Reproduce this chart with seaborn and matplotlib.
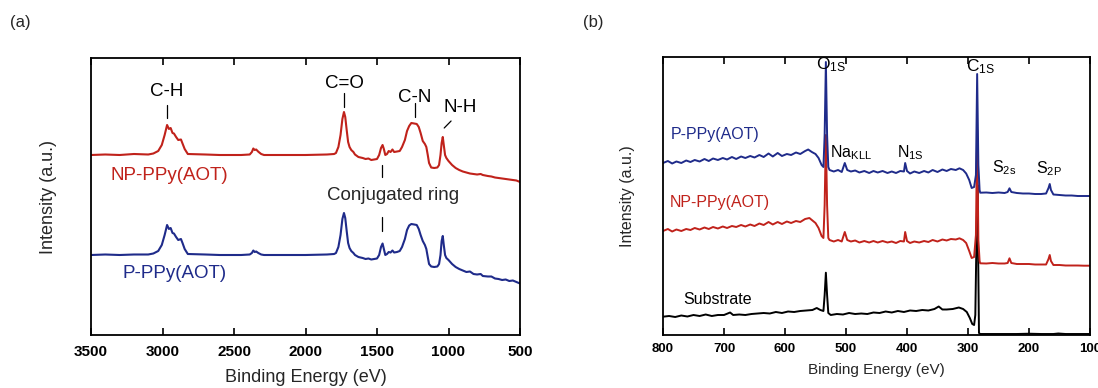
import matplotlib
matplotlib.use("Agg")
import matplotlib.pyplot as plt
import seaborn as sns
import pandas as pd

# ============================================================
# DATA (binding energy in eV, intensity in arbitrary units)
# ============================================================

# panel (a) - spectra
a_np_ppy = [
    (3500, 180), (3400, 180.5), (3300, 180), (3200, 181), (3100, 180.5), (3064, 181.5),
    (3030, 184), (3005, 190), (2985, 200), (2968, 210), (2955, 206), (2943, 207),
    (2930, 202), (2920, 201.5), (2905, 198), (2890, 195), (2871, 195.5), (2860, 191.5),
    (2845, 186), (2823, 181), (2700, 180.5), (2600, 180), (2450, 180), (2390, 180.5),
    (2375, 183), (2365, 186.5), (2355, 185), (2345, 185.5), (2330, 183.3), (2310, 181),
    (2290, 180), (2200, 180), (2000, 180), (1850, 180.5), (1800, 181), (1787, 182),
    (1770, 188), (1755, 200), (1742, 216), (1731, 223), (1722, 218), (1712, 205),
    (1702, 193), (1692, 188), (1680, 185), (1665, 183), (1654, 180.5), (1630, 178),
    (1600, 177), (1580, 176), (1560, 176.5), (1540, 175), (1520, 175.5), (1500, 176),
    (1485, 180), (1472, 187), (1461, 190), (1452, 186), (1442, 180), (1430, 181),
    (1418, 184), (1405, 183), (1392, 185.5), (1380, 183), (1360, 183.5), (1341, 184),
    (1325, 188), (1305, 195), (1290, 204), (1275, 209), (1260, 212), (1240, 211.5),
    (1222, 211), (1208, 208), (1195, 202), (1180, 194), (1165, 191), (1155, 188),
    (1145, 180), (1136, 172), (1121, 167.5), (1100, 167), (1078, 167.5), (1066, 170),
    (1056, 180), (1048, 192), (1040, 198), (1033, 190), (1024, 180), (1015, 177),
    (1000, 174), (975, 170), (950, 167), (925, 165), (900, 163.5), (875, 162.5),
    (850, 161.5), (825, 161), (800, 160.5), (775, 161), (760, 160), (725, 159),
    (700, 158.5), (675, 157.5), (650, 157), (625, 156.5), (600, 156), (575, 155.5),
    (550, 155), (525, 154.5), (500, 153),
]

a_p_ppy = [
    (3500, 80), (3400, 80.5), (3300, 80), (3200, 80.5), (3100, 80.5), (3064, 81.5),
    (3030, 84), (3005, 90), (2985, 100), (2968, 110), (2955, 106), (2943, 107),
    (2930, 102), (2920, 101.5), (2905, 98), (2890, 95), (2871, 96), (2860, 92),
    (2845, 86), (2823, 81), (2700, 80.5), (2600, 80), (2450, 80), (2390, 80.5),
    (2375, 82), (2365, 84.5), (2355, 83), (2345, 83.5), (2330, 82), (2310, 80.5),
    (2290, 80), (2200, 80), (2000, 80), (1850, 80.5), (1800, 81), (1787, 82),
    (1770, 88), (1755, 100), (1742, 116), (1731, 122), (1722, 117), (1712, 104),
    (1702, 92), (1692, 87), (1680, 84), (1665, 82), (1654, 80), (1630, 78),
    (1600, 77), (1580, 76), (1560, 76.5), (1540, 75.5), (1520, 76), (1500, 76.5),
    (1485, 80), (1472, 88), (1461, 91.5), (1452, 86), (1442, 80), (1430, 81),
    (1418, 83), (1405, 82.5), (1392, 84.5), (1380, 82.5), (1360, 83), (1341, 84),
    (1325, 88), (1305, 96), (1290, 105), (1275, 109.5), (1260, 111), (1240, 110.5),
    (1222, 110), (1208, 106), (1195, 100), (1180, 94), (1165, 90), (1155, 86),
    (1145, 78), (1136, 71), (1121, 68.5), (1100, 68), (1078, 68.5), (1066, 71),
    (1056, 80), (1048, 94), (1040, 99), (1033, 90), (1024, 80), (1015, 77),
    (1000, 75), (975, 71), (950, 68), (925, 66), (900, 64.5), (875, 63),
    (850, 63.5), (825, 61), (800, 60.5), (775, 61), (760, 59), (725, 58.5),
    (700, 58.5), (675, 56.5), (650, 56), (625, 55), (600, 55.5), (575, 54),
    (550, 54.5), (525, 53), (500, 51.5),
]

# panel (b) - survey spectra
b_p_ppy = [
    (800, 172), (792, 174), (785, 171.5), (778, 173.5), (770, 172), (762, 174.5),
    (755, 173), (748, 175), (740, 173.5), (732, 176), (725, 174), (718, 176.5),
    (710, 175), (702, 177), (695, 175.5), (687, 178), (680, 176), (672, 178.5),
    (665, 177), (657, 179), (650, 177.5), (642, 180), (635, 178), (627, 181.5),
    (620, 178.5), (612, 182), (605, 179), (597, 181), (590, 180), (582, 182.5),
    (575, 181), (567, 184), (562, 185.5), (556, 183), (550, 181), (545, 177),
    (540, 170), (537, 168), (535, 200), (533, 273), (531, 200), (529, 168),
    (527, 165), (520, 163.5), (513, 165), (507, 163), (502, 172), (498, 165),
    (492, 163.5), (485, 164.5), (478, 162.5), (470, 164), (462, 162), (455, 164),
    (448, 162.5), (440, 164), (432, 162), (425, 163.5), (418, 162), (411, 164),
    (405, 163.5), (403, 172), (400, 164), (395, 161.5), (388, 163.5), (380, 162),
    (372, 164), (365, 162.5), (358, 165), (350, 163), (342, 165.5), (335, 164),
    (328, 166), (320, 165), (314, 166.7), (308, 165), (303, 161.5), (298, 155),
    (294, 147), (290, 148), (287, 160), (285, 261), (283, 170), (281, 145),
    (280, 142.3), (270, 142.5), (260, 142), (250, 142.5), (240, 142), (235, 143),
    (232, 146.7), (229, 143), (220, 142), (210, 141.5), (200, 141.5), (190, 141),
    (180, 141), (172, 141.5), (168, 147), (166, 151), (164, 145), (160, 140.5),
    (150, 140), (140, 139.5), (130, 139.5), (120, 139), (110, 139), (100, 139),
]

b_np_ppy = [
    (800, 104), (792, 106), (785, 103.5), (778, 105.5), (770, 104), (762, 106),
    (755, 105), (748, 107), (740, 105.5), (732, 107.5), (725, 106), (718, 108),
    (710, 106.5), (702, 108.5), (695, 107), (687, 109), (680, 108), (672, 110),
    (665, 108.5), (657, 110.5), (650, 109), (642, 111.5), (635, 110), (627, 113),
    (620, 110.5), (612, 113), (605, 111), (597, 113.5), (590, 112), (582, 114),
    (575, 113), (567, 116), (560, 117), (556, 115), (550, 112), (545, 107),
    (540, 99), (537, 97), (535, 130), (533, 200), (531, 130), (529, 97),
    (527, 95), (520, 93.5), (513, 95), (507, 93.5), (502, 103), (498, 95),
    (492, 93.5), (485, 94.5), (478, 92.5), (470, 94), (462, 92.5), (455, 94),
    (448, 92.5), (440, 94), (432, 92.5), (425, 93.5), (418, 92), (411, 94),
    (405, 93.5), (403, 103), (400, 94), (395, 92), (388, 93.5), (380, 92.5),
    (372, 94), (365, 93), (358, 95), (350, 93.5), (342, 95.5), (335, 94.5),
    (328, 96), (320, 95.5), (314, 96.7), (308, 95), (303, 92), (298, 84),
    (294, 77), (290, 78), (287, 100), (285, 205), (283, 95), (281, 74),
    (280, 71.7), (270, 71.5), (260, 72), (250, 71.5), (240, 71.5), (235, 72),
    (232, 76.7), (229, 72), (220, 71), (210, 71), (200, 71), (190, 70.5),
    (180, 70.5), (172, 70.5), (168, 76), (166, 80), (164, 74), (160, 70),
    (150, 70), (140, 69.5), (130, 69.5), (120, 69.5), (110, 69.3), (100, 69.3),
]

b_substrate = [
    (800, 18.3), (790, 19), (780, 18), (770, 19.5), (760, 18.5), (750, 20),
    (740, 19), (730, 20.5), (720, 19), (710, 20), (700, 20), (690, 22.5),
    (685, 20), (675, 20.5), (665, 20), (655, 21), (645, 21.5), (635, 22),
    (625, 21.5), (615, 23), (605, 22), (595, 23.5), (585, 23), (575, 24),
    (565, 24.5), (555, 25), (548, 27), (542, 25), (537, 24), (535, 40),
    (533, 62.3), (531, 40), (529, 22), (525, 20), (515, 21), (505, 20.5),
    (495, 22), (485, 21), (475, 21.5), (465, 21), (455, 22.5), (445, 22),
    (435, 23.5), (425, 22.5), (415, 24), (405, 23), (395, 24.5), (385, 24),
    (375, 25), (365, 24.5), (355, 26), (348, 28.5), (342, 25.5), (335, 25.5),
    (325, 26), (315, 27.5), (308, 26), (302, 23), (297, 17), (293, 11),
    (290, 10), (288, 20), (286, 100), (284.5, 150), (283, 60), (282, 2),
    (280, 1), (260, 1), (240, 1), (220, 1), (200, 1.3), (180, 1),
    (160, 1), (152, 1.5), (140, 1), (120, 1), (100, 1),
]

a_ticks = [3500, 3000, 2500, 2000, 1500, 1000, 500]
b_ticks = [800, 700, 600, 500, 400, 300, 200, 100]

RED = "#c0221b"
BLUE = "#1f2b8a"

# ============================================================
# STYLE
# ============================================================

sns.set_theme(style="ticks")
plt.rcParams['font.family'] = ['Liberation Sans', 'DejaVu Sans']
plt.rcParams['mathtext.default'] = 'regular'


def to_df(pairs):
    return pd.DataFrame(pairs, columns=["energy", "intensity"])


def style_axis(ax, ticks, tick_size, pad):
    ax.set_xticks(ticks)
    ax.set_xticklabels([str(t) for t in ticks], fontsize=tick_size, fontweight='bold')
    ax.set_yticks([])
    ax.tick_params(axis='x', direction='in', top=True, bottom=True,
                   length=5, width=1.2, pad=pad, colors='black')
    for s in ax.spines.values():
        s.set_visible(True)
        s.set_color('black')
        s.set_linewidth(1.3)


fig = plt.figure(figsize=(10.98, 3.88), dpi=100)

ax_a = fig.add_axes([91 / 1098, 53 / 388, 429 / 1098, 277 / 388])
ax_b = fig.add_axes([663 / 1098, 53 / 388, 427 / 1098, 278 / 388])

# ============================================================
# PANEL (a)
# ============================================================

for data, color in [(a_np_ppy, RED), (a_p_ppy, BLUE)]:
    df = to_df(data)
    sns.lineplot(data=df, x="energy", y="intensity", ax=ax_a,
                 color=color, lw=1.5, estimator=None)

ax_a.set_xlim(3500, 500)
ax_a.set_ylim(0, 277)
style_axis(ax_a, a_ticks, 11, 7)

ax_a.set_xlabel("Binding Energy (eV)", fontsize=13)
ax_a.xaxis.set_label_coords(0.5, -0.155)
ax_a.xaxis.label.set_va('center')
ax_a.set_ylabel("Intensity (a.u.)", fontsize=13)
ax_a.yaxis.set_label_coords(-0.1, 0.5)
ax_a.yaxis.label.set_va('center')

# peak labels with little marker lines
a_labels = [
    ("C-H", 2968, 243, [(2966, 2966), (230, 217)]),
    ("C=O", 1728, 252, [(1731, 1731), (242, 228)]),
    ("C-N", 1234, 238, [(1234, 1234), (232, 218)]),
    ("N-H", 921, 228, [(1030, 982), (207, 214)]),
]
for txt, x, y, (lx, ly) in a_labels:
    ax_a.text(x, y, txt, fontsize=13.5, ha='center', va='center', color='black')
    ax_a.plot(lx, ly, color='black', lw=0.9)

ax_a.text(1391, 140, "Conjugated ring", fontsize=13.5, ha='center', va='center')
ax_a.plot([1463, 1463], [170, 158], color='black', lw=0.9)
ax_a.plot([1463, 1463], [118, 104], color='black', lw=0.9)

ax_a.text(3365, 160, "NP-PPy(AOT)", fontsize=13.5, ha='left', va='center', color=RED)
ax_a.text(3281, 62, "P-PPy(AOT)", fontsize=13.5, ha='left', va='center', color=BLUE)

# ============================================================
# PANEL (b)
# ============================================================

for data, color in [(b_substrate, 'black'), (b_np_ppy, RED), (b_p_ppy, BLUE)]:
    df = to_df(data)
    sns.lineplot(data=df, x="energy", y="intensity", ax=ax_b,
                 color=color, lw=1.4, estimator=None)

ax_b.set_xlim(800, 100)
ax_b.set_ylim(0, 278)
style_axis(ax_b, b_ticks, 9.5, 6)

ax_b.set_xlabel("Binding Energy (eV)", fontsize=11)
ax_b.xaxis.set_label_coords(0.5, -0.126)
ax_b.xaxis.label.set_va('center')
ax_b.set_ylabel("Intensity (a.u.)", fontsize=11.5)
ax_b.yaxis.set_label_coords(-0.083, 0.5)
ax_b.yaxis.label.set_va('center')

b_labels = [
    ("O$_{1S}$", 549, 270, 12.5),
    ("C$_{1S}$", 303, 268, 12.5),
    ("Na$_{KLL}$", 526, 182, 11.5),
    ("N$_{1S}$", 417, 182, 11.5),
    ("S$_{2s}$", 261, 167, 11.5),
    ("S$_{2P}$", 189, 166, 11.5),
]
for txt, x, y, size in b_labels:
    ax_b.text(x, y, txt, fontsize=size, ha='left', va='center', color='black')

ax_b.text(788, 200, "P-PPy(AOT)", fontsize=11.5, ha='left', va='center', color=BLUE)
ax_b.text(789, 133, "NP-PPy(AOT)", fontsize=11.5, ha='left', va='center', color=RED)
ax_b.text(766, 35, "Substrate", fontsize=11.5, ha='left', va='center', color='black')

# panel letters
fig.text(20 / 1098, 1 - 23 / 388, "(a)", fontsize=12, ha='center', va='center')
fig.text(593 / 1098, 1 - 23 / 388, "(b)", fontsize=12, ha='center', va='center')

fig.savefig("out.png", dpi=100)
